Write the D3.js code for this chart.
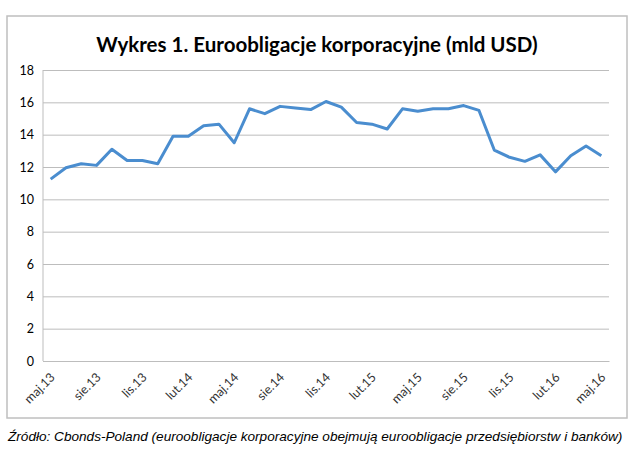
<!DOCTYPE html>
<html><head><meta charset="utf-8">
<script src="https://cdn.jsdelivr.net/npm/d3@7"></script>
<style>body{margin:0;background:#fff;}svg{display:block;}</style>
</head><body>
<script>
const months = ["maj","cze","lip","sie","wrz","paź","lis","gru","sty","lut","mar","kwi"];
const years = [13,13,13,13,13,13,13,13,14,14,14,14,14,14,14,14,14,14,14,14,15,15,15,15,15,15,15,15,15,15,15,15,16,16,16,16,16];
const categories = years.map((yr, i) => months[i % 12] + "." + yr);
const values = [11.25,11.95,12.2,12.1,13.1,12.4,12.4,12.2,13.9,13.9,14.55,14.65,13.5,15.6,15.3,15.75,15.65,15.55,16.05,
  15.7,14.75,14.65,14.35,15.6,15.45,15.6,15.6,15.8,15.5,13.05,12.6,12.35,12.75,11.7,12.7,13.3,12.7];
const yTicks = [0,2,4,6,8,10,12,14,16,18];
const title = "Wykres 1. Euroobligacje korporacyjne (mld USD)";
const source = "Źródło: Cbonds-Poland (euroobligacje korporacyjne obejmują euroobligacje przedsiębiorstw i banków)";

const W = 640, H = 463;
const svg = d3.select("body").append("svg").attr("width", W).attr("height", H);
svg.append("rect").attr("width", W).attr("height", H).attr("fill", "#fff");
svg.append("rect").attr("x", 7).attr("y", 16).attr("width", 620).attr("height", 402)
  .attr("fill", "#fff").attr("stroke", "#bfbfbf").attr("stroke-width", 1.5);

const L = 43, R = 609, T = 70, B = 361;
const x = d3.scaleBand().domain(categories).range([L, R]).padding(0);
const y = d3.scaleLinear().domain([0, 18]).range([B, T]);

svg.append("text").attr("x", 317).attr("y", 52).attr("text-anchor", "middle")
  .attr("font-family", "Lato, 'Open Sans', sans-serif").attr("font-weight", "bold")
  .attr("font-size", 20.5).attr("fill", "#000").text(title);

const yAxis = d3.axisLeft(y).tickValues(yTicks).tickSize(-(R - L)).tickFormat(d3.format("d"));
const gy = svg.append("g").attr("transform", `translate(${L},0)`).call(yAxis);
gy.select(".domain").remove();
gy.selectAll(".tick line").attr("stroke", "#bdbdbd").attr("stroke-width", 1);
gy.selectAll(".tick text").attr("x", -9).attr("font-family", "Lato, 'Open Sans', sans-serif")
  .attr("font-size", 12.5).attr("fill", "#000");

svg.append("line").attr("x1", L).attr("x2", L).attr("y1", T).attr("y2", B).attr("stroke", "#bdbdbd");

const xAxis = d3.axisBottom(x).tickValues(categories.filter((d, i) => i % 3 === 0)).tickSize(0);
const gx = svg.append("g").attr("transform", `translate(0,${B})`).call(xAxis);
gx.select(".domain").attr("stroke", "#bdbdbd");
gx.selectAll(".tick text").attr("text-anchor", "end")
  .attr("transform", "translate(2,14) rotate(-45)").attr("dy", "0.35em").attr("y", 0).attr("x", 0)
  .attr("font-family", "Lato, 'Open Sans', sans-serif").attr("font-size", 12.5).attr("fill", "#333");

const line = d3.line().x((d, i) => x(categories[i]) + x.bandwidth() / 2).y(d => y(d));
svg.append("path").datum(values).attr("d", line).attr("fill", "none")
  .attr("stroke", "#4a8dcf").attr("stroke-width", 3).attr("stroke-linejoin", "round");

svg.append("text").attr("x", 8).attr("y", 441)
  .attr("font-family", "'Liberation Sans', Arial, sans-serif").attr("font-style", "italic")
  .attr("font-size", 13.6).attr("fill", "#000").text(source);
</script>
</body></html>
